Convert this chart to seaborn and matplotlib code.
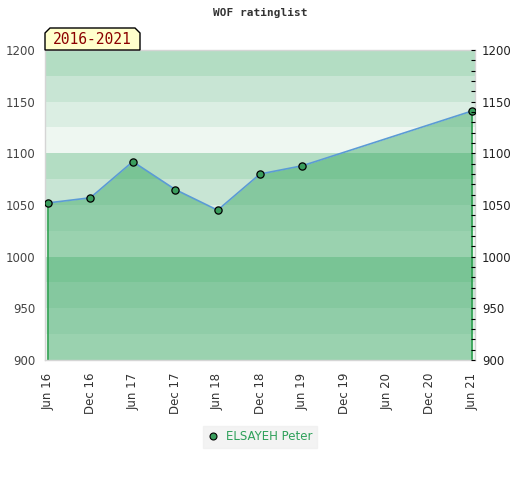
import matplotlib
matplotlib.use("Agg")
import matplotlib.pyplot as plt
from matplotlib.patches import Polygon
from matplotlib.lines import Line2D
from matplotlib.ticker import MultipleLocator
import seaborn as sns
import pandas as pd

# ---- data ----
tick_labels = ["Jun 16", "Dec 16", "Jun 17", "Dec 17", "Jun 18", "Dec 18",
               "Jun 19", "Dec 19", "Jun 20", "Dec 20", "Jun 21"]
point_dates = ["Jun 16", "Dec 16", "Jun 17", "Dec 17", "Jun 18", "Dec 18",
               "Jun 19", "Jun 21"]
ratings = [1052, 1057, 1092, 1065, 1045, 1080, 1088, 1141]
player = "ELSAYEH Peter"
title = "WOF ratinglist"
period = "2016-2021"
y_min, y_max = 900, 1200

sns.set_theme(style="white")
plt.rcParams['font.family'] = ['DejaVu Sans']

df = pd.DataFrame({"pos": [tick_labels.index(d) for d in point_dates],
                   "rating": ratings})

fig = plt.figure(figsize=(5.2, 4.8), dpi=100)
ax = fig.add_axes([45/520, 1-360/480, 430/520, 310/480])

# background bands
band_cols = ["#eef7f1", "#dbeee3", "#c8e5d4", "#b3ddc3"]
for i, lo in enumerate(range(y_min, y_max, 25)):
    ax.axhspan(lo, lo + 25, color=band_cols[i % 4], lw=0, zorder=0)

# area
ax.fill_between(df["pos"], df["rating"], y_min, color="#2da35a", alpha=0.43,
                lw=0, zorder=1)
ax.plot([df["pos"].iloc[0]]*2, [y_min, df["rating"].iloc[0]], color="#2fa050", lw=1.2, zorder=2)
ax.plot([df["pos"].iloc[-1]]*2, [y_min, df["rating"].iloc[-1]], color="#2fa050", lw=1.2, zorder=2)

sns.lineplot(data=df, x="pos", y="rating", ax=ax, color="#5b9bd5", lw=1.2,
             marker="o", markersize=5.2, markerfacecolor="#3a9d5d",
             markeredgecolor="black", markeredgewidth=0.9, zorder=3)

ax.set_xlim(-0.07, 10.07)
ax.set_ylim(y_min, y_max)
ax.set_xlabel("")
ax.set_ylabel("")
ax.set_xticks(range(len(tick_labels)))
ax.set_xticklabels(tick_labels, rotation=90, fontsize=8.5, color="#333333")
ax.yaxis.set_major_locator(MultipleLocator(50))
ax.tick_params(axis="y", length=0, labelsize=8.5, labelcolor="#444444", pad=7)
ax.tick_params(axis="x", length=0, pad=9)
for s in ax.spines.values():
    s.set_color("#d5d5d5")
    s.set_linewidth(1)

ax2 = ax.twinx()
ax2.set_ylim(y_min, y_max)
ax2.yaxis.set_major_locator(MultipleLocator(50))
ax2.yaxis.set_minor_locator(MultipleLocator(10))
ax2.tick_params(axis="y", which="both", direction="in", length=3, width=0.8,
                color="black", labelsize=8.5, labelcolor="#222222", pad=5)
for s in ax2.spines.values():
    s.set_visible(False)
ax2.grid(False)

# title
fig.text(260/520, 1-13/480, title, ha="center", va="center", fontsize=8,
         family="DejaVu Sans Mono", fontweight="bold", color="#333333")

# period label box with chamfered top corners
x0, x1, yb, yt, c = 45, 140, 50, 28, 5
pts = [(x0, yb), (x0, yt + c), (x0 + c, yt), (x1 - c, yt), (x1, yt + c), (x1, yb)]
pts = [(x/520, 1 - y/480) for x, y in pts]
fig.patches.append(Polygon(pts, closed=True, transform=fig.transFigure,
                           facecolor="#ffffcc", edgecolor="black", lw=1, zorder=5))
fig.text(92/520, 1-40/480, period, ha="center", va="center", fontsize=10.5,
         family="DejaVu Sans Mono", color="#8b0000", zorder=6)

# legend
handle = Line2D([], [], lw=0, marker="o", markersize=5, markerfacecolor="#3a9d5d",
                markeredgecolor="black", markeredgewidth=0.8)
leg = fig.legend([handle], [player], loc="center", bbox_to_anchor=(260/520, 1-437/480),
                 frameon=True, fontsize=8.5, handlelength=1, handletextpad=0.6,
                 borderpad=0.4, fancybox=False)
leg.get_frame().set_facecolor("#f0f0f0")
leg.get_frame().set_edgecolor("#f0f0f0")
for t in leg.get_texts():
    t.set_color("#2ea05a")

fig.savefig("out.png", dpi=100)
